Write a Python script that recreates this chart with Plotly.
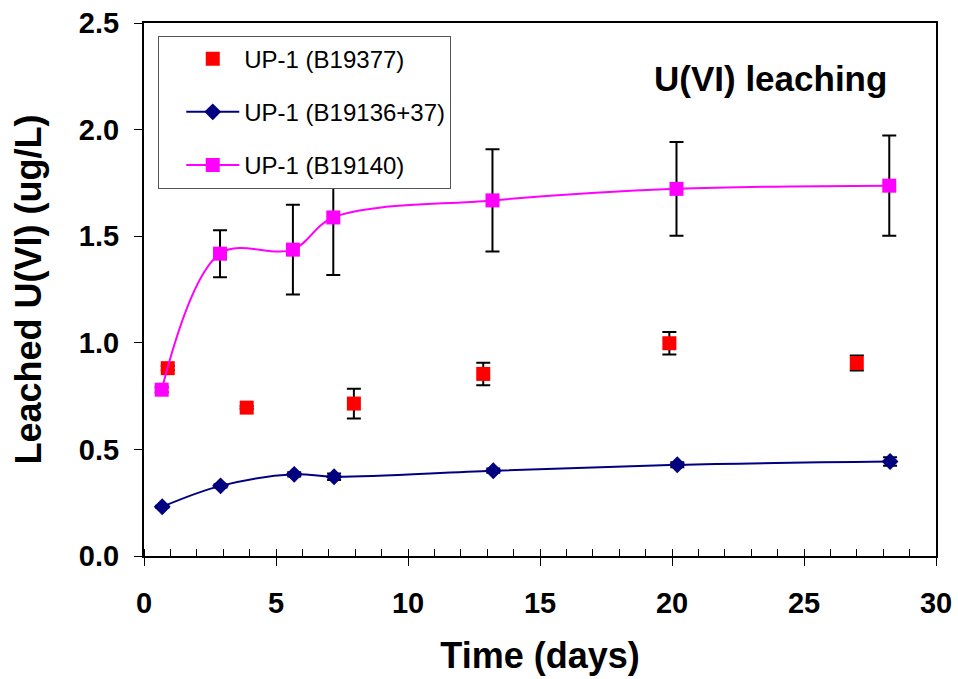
import plotly.graph_objects as go

# Data
days_b19377 = [0.9, 3.89, 7.95, 12.85, 19.9, 27.0]
u_b19377 = [0.881, 0.696, 0.715, 0.854, 0.998, 0.905]
err_b19377 = [0.01, 0.006, 0.07, 0.053, 0.053, 0.035]

days_b19136 = [0.69, 2.9, 5.69, 7.2, 13.23, 20.2, 28.26]
u_b19136 = [0.231, 0.329, 0.383, 0.372, 0.40, 0.428, 0.443]
err_b19136 = [0.005, 0.008, 0.01, 0.015, 0.01, 0.012, 0.02]

days_b19140 = [0.67, 2.88, 5.64, 7.17, 13.2, 20.17, 28.23]
u_b19140 = [0.78, 1.418, 1.437, 1.588, 1.668, 1.722, 1.737]
err_b19140 = [0.012, 0.11, 0.21, 0.27, 0.24, 0.22, 0.235]

names = ["UP-1 (B19377)", "UP-1 (B19136+37)", "UP-1 (B19140)"]
x_ticks = [0, 5, 10, 15, 20, 25, 30]
y_ticks = [0.0, 0.5, 1.0, 1.5, 2.0, 2.5]

FONT = "Liberation Sans, Arial, sans-serif"

def ebar(vals):
    return dict(type="data", array=vals, visible=True, color="black",
                thickness=2, width=7)

fig = go.Figure()
fig.add_trace(go.Scatter(
    x=days_b19377, y=u_b19377, name=names[0], mode="markers",
    marker=dict(symbol="square", size=14, color="#FF0000"),
    error_y=ebar(err_b19377), legendgroup="a"))
fig.add_trace(go.Scatter(
    x=days_b19136, y=u_b19136, name=names[1], mode="lines+markers",
    line=dict(color="#000080", width=2, shape="spline", smoothing=1),
    marker=dict(symbol="diamond", size=13, color="#000080"),
    error_y=ebar(err_b19136), legendgroup="b"))
fig.add_trace(go.Scatter(
    x=days_b19140, y=u_b19140, name=names[2], mode="lines+markers",
    line=dict(color="#FF00FF", width=2, shape="spline", smoothing=1),
    marker=dict(symbol="square", size=14, color="#FF00FF"),
    error_y=ebar(err_b19140), legendgroup="c"))

fig.add_annotation(text="<b>U(VI) leaching</b>", xref="paper", yref="paper",
                   x=0.791, y=0.895, xanchor="center", yanchor="middle",
                   showarrow=False, font=dict(family=FONT, size=35, color="black"))

fig.update_layout(
    width=958, height=679,
    margin=dict(l=144, r=22, t=23, b=123, autoexpand=False),
    paper_bgcolor="white", plot_bgcolor="white",
    font=dict(family=FONT, color="black"),
    showlegend=True,
    legend=dict(x=0.018, y=0.9765, xanchor="left", yanchor="top",
                bgcolor="white", bordercolor="#555555", borderwidth=1,
                font=dict(family=FONT, size=24, color="black"),
                tracegroupgap=19, itemwidth=53, indentation=22),
    xaxis=dict(range=[0, 30], tickvals=x_ticks, ticks="outside", ticklen=8,
               tickwidth=1, tickcolor="black", ticklabelstandoff=12,
               automargin=False,
               minor=dict(dtick=1, ticks="inside", ticklen=7, tickcolor="black"),
               showline=True, linecolor="black", linewidth=2, mirror=True,
               showgrid=False, zeroline=False,
               tickfont=dict(family=FONT, size=29, color="black", weight="bold"),
               title=dict(text="<b>Time (days)</b>", standoff=25,
                          font=dict(family=FONT, size=36, color="black"))),
    yaxis=dict(range=[0, 2.5], tickvals=y_ticks, tickformat=".1f",
               ticks="outside", ticklen=8, tickwidth=1, tickcolor="black",
               ticklabelstandoff=9, automargin=False,
               showline=True, linecolor="black", linewidth=2, mirror=True,
               showgrid=False, zeroline=False,
               tickfont=dict(family=FONT, size=29, color="black", weight="bold"),
               title=dict(text="<b>Leached U(VI) (ug/L)</b>", standoff=26,
                          font=dict(family=FONT, size=36, color="black"))),
)

fig.write_html("out.html")
